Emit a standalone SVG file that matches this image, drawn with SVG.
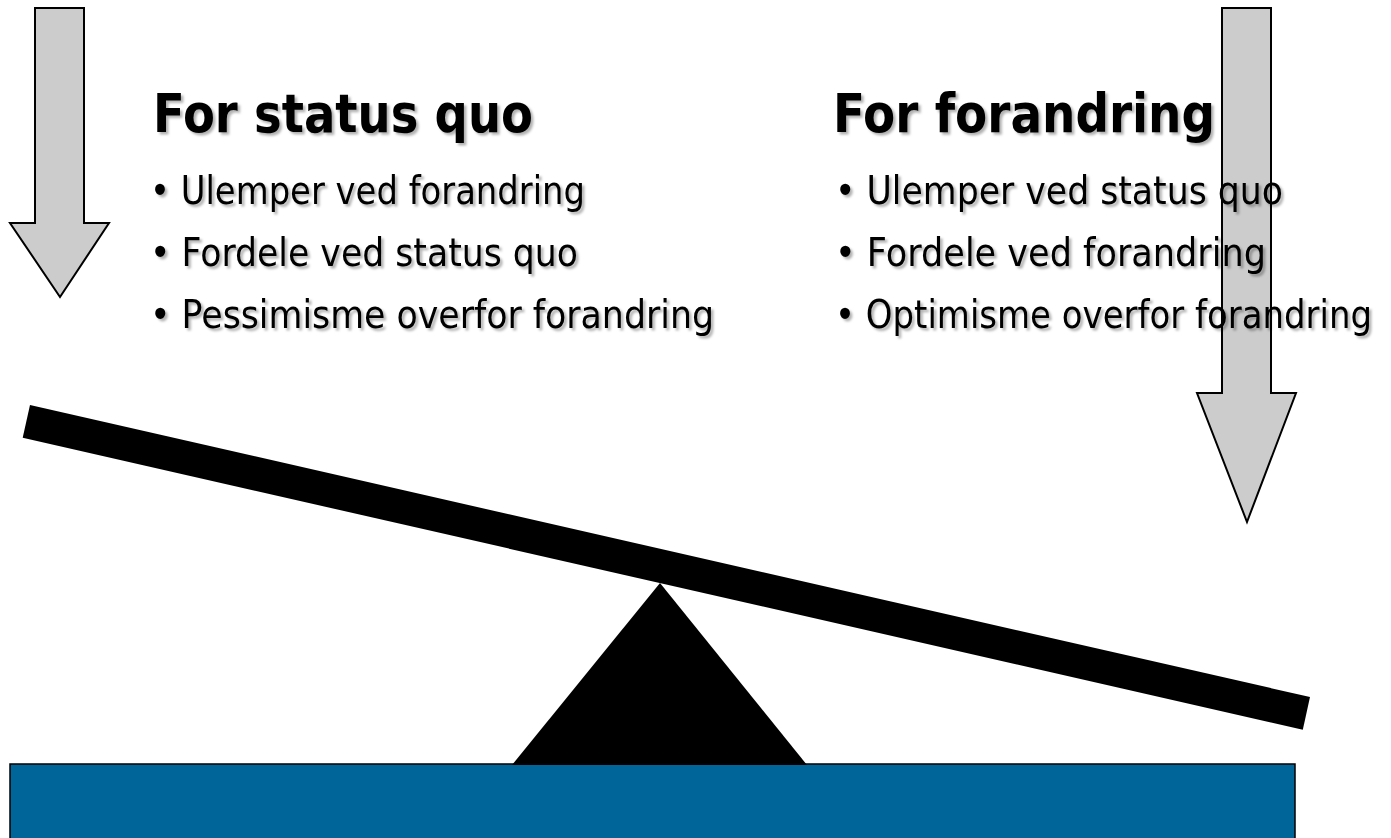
<svg xmlns="http://www.w3.org/2000/svg" width="1391" height="838" viewBox="0 0 1391 838">
  <defs>
    <filter id="shadow" x="-5%" y="-20%" width="110%" height="150%">
      <feDropShadow dx="2.5" dy="2.5" stdDeviation="1.3" flood-color="#000" flood-opacity="0.3"/>
    </filter>
  </defs>
  <style>
    .arrow { fill: #cccccc; stroke: #000; stroke-width: 2; stroke-linejoin: miter; }
    .title { font-family: "DejaVu Sans", "Liberation Sans", sans-serif; font-weight: bold; font-size: 54px; fill: #000; filter: url(#shadow); }
    .item { font-family: "DejaVu Sans", "Liberation Sans", sans-serif; font-size: 39px; fill: #000; filter: url(#shadow); }
  </style>
  <rect width="1391" height="838" fill="#fff"/>

  <g id="ground">
    <rect x="10" y="764" width="1285" height="90" fill="#006699" stroke="#000" stroke-width="1.5"/>
  </g>
  <g id="fulcrum">
    <polygon points="660,583 512,765 807,765" fill="#000"/>
  </g>
  <g id="beam">
    <polygon points="30,405 1310,697 1302.8,729.7 22.7,437.7" fill="#000"/>
  </g>

  <g id="arrow-left">
    <polygon class="arrow" points="35,8 84,8 84,223 109,223 60,297 10,223 35,223"/>
  </g>
  <g id="arrow-right">
    <polygon class="arrow" points="1222,8 1271,8 1271,393 1296,393 1247,522 1197,393 1222,393"/>
  </g>

  <g id="status-quo">
    <text class="title" x="153" y="132" textLength="380" lengthAdjust="spacingAndGlyphs">For status quo</text>
    <text class="item" x="150" y="204" textLength="435" lengthAdjust="spacingAndGlyphs">• Ulemper ved forandring</text>
    <text class="item" x="150" y="266" textLength="428" lengthAdjust="spacingAndGlyphs">• Fordele ved status quo</text>
    <text class="item" x="150" y="328" textLength="564" lengthAdjust="spacingAndGlyphs">• Pessimisme overfor forandring</text>
  </g>

  <g id="forandring">
    <text class="title" x="833" y="132" textLength="382" lengthAdjust="spacingAndGlyphs">For forandring</text>
    <text class="item" x="835" y="204" textLength="448" lengthAdjust="spacingAndGlyphs">• Ulemper ved status quo</text>
    <text class="item" x="835" y="266" textLength="431" lengthAdjust="spacingAndGlyphs">• Fordele ved forandring</text>
    <text class="item" x="835" y="328" textLength="537" lengthAdjust="spacingAndGlyphs">• Optimisme overfor forandring</text>
  </g>
</svg>
